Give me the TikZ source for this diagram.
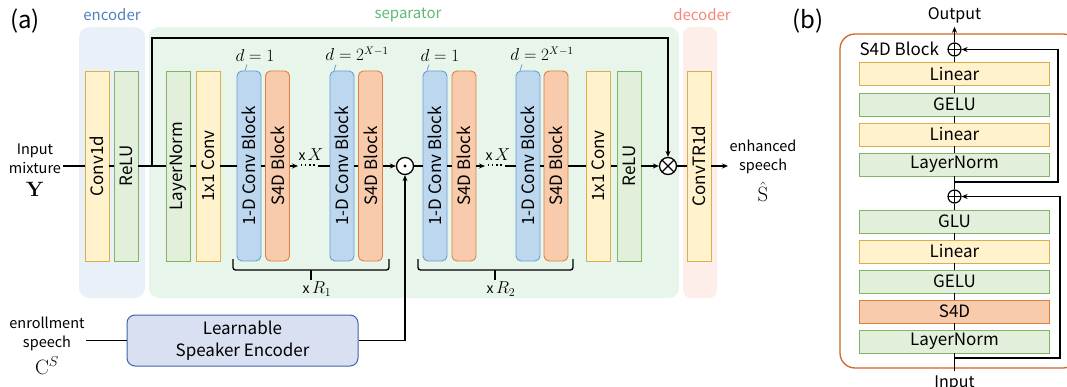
\documentclass[tikz,border=0pt]{standalone}
\usepackage[no-math]{fontspec}
\setmainfont{Noto Sans CJK JP}
\usetikzlibrary{arrows.meta,calc}
\definecolor{yF}{HTML}{FFF2CC}\definecolor{yD}{HTML}{D6B04C}
\definecolor{gF}{HTML}{E2EFDA}\definecolor{gD}{HTML}{82B366}
\definecolor{bF}{HTML}{BDD7EE}\definecolor{bD}{HTML}{6A9FD4}
\definecolor{oF}{HTML}{F8CBAD}\definecolor{oD}{HTML}{E08040}
\definecolor{encbg}{HTML}{E9F0F8}\definecolor{sepbg}{HTML}{E7F5EB}\definecolor{decbg}{HTML}{FDEEEA}
\definecolor{encT}{HTML}{4F81BD}\definecolor{sepT}{HTML}{5DBB72}\definecolor{decT}{HTML}{F4877A}
\definecolor{spkF}{HTML}{D9E0F2}\definecolor{spkD}{HTML}{3D64A8}
\definecolor{outerD}{HTML}{D0662A}
\newcommand{\mymathL}[1]{{\fontsize{20}{22}\selectfont$#1$}}
\newcommand{\mymathM}[1]{{\fontsize{17}{19}\selectfont$#1$}}
\begin{document}
\begin{tikzpicture}[x=1pt,y=-1pt,line width=1.3pt,
  >={Stealth[length=6pt,width=5pt]},
  tall/.style={rotate=90,draw,minimum width=190pt,minimum height=24pt,inner sep=0pt,line width=0.9pt,font=\fontsize{17}{20}\selectfont},
  yb/.style={tall,fill=yF,draw=yD},
  gb/.style={tall,fill=gF,draw=gD},
  cbk/.style={tall,fill=bF,draw=bD,rounded corners=5pt},
  sbk/.style={tall,fill=oF,draw=oD,rounded corners=5pt},
  bbox/.style={draw,minimum width=190pt,minimum height=23pt,inner sep=0pt,line width=0.9pt,font=\fontsize{17}{20}\selectfont},
  byb/.style={bbox,fill=yF,draw=yD},
  bgb/.style={bbox,fill=gF,draw=gD},
  bob/.style={bbox,fill=oF,draw=oD},
  opc/.style={circle,draw,fill=white,minimum size=17pt,inner sep=0pt,line width=1.3pt},
  plusc/.style={circle,draw,fill=white,minimum size=13pt,inner sep=0pt,line width=1.2pt,
    path picture={\draw[line width=1pt] (path picture bounding box.north) -- (path picture bounding box.south)
      (path picture bounding box.west) -- (path picture bounding box.east);}},
  grp/.style={font=\fontsize{15}{18}\selectfont},
  side/.style={align=center,font=\fontsize{14.5}{19}\selectfont,inner sep=1pt},
  dl/.style={font=\fontsize{16}{18}\selectfont},
  xl/.style={font=\fontsize{14}{16}\selectfont},
  tk/.style={draw=bD,line width=0.8pt},
  brc/.style={line width=1.3pt,rounded corners=2.5pt}
]
\useasboundingbox (0,0) rectangle (1067,387);
% backgrounds
\fill[encbg,rounded corners=10pt] (79,27) rectangle (145,298);
\fill[sepbg,rounded corners=10pt] (149,27) rectangle (679,298);
\fill[decbg,rounded corners=8pt] (683,27) rectangle (717,298);
\node[grp,text=encT] (encl) at (112,15) {encoder};
\node[grp,text=sepT] (sepl) at (408,15) {separator};
\node[grp,text=decT] (decl) at (702,15) {decoder};
\node[font=\fontsize{24}{26}\selectfont] (la) at (25,21) {(a)};
\node[font=\fontsize{24}{26}\selectfont] (lb) at (808,21) {(b)};

% panel (a) blocks
\node[yb] (conv1d) at (97,166) {Conv1d};
\node[gb] (relu1) at (126,166) {ReLU};
\node[gb] (ln) at (178,166) {LayerNorm};
\node[yb] (cva) at (208,166) {1x1 Conv};
\node[cbk] (cb1) at (249,166) {1-D Conv Block};
\node[sbk] (s1) at (277.5,166) {S4D Block};
\node[cbk] (cb2) at (342,166) {1-D Conv Block};
\node[sbk] (s2) at (370.5,166) {S4D Block};
\node[opc] (dot) at (405,166) {};
\fill (dot.center) circle (1.6pt);
\node[cbk] (cb3) at (435,166) {1-D Conv Block};
\node[sbk] (s3) at (464,166) {S4D Block};
\node[cbk] (cb4) at (528,166) {1-D Conv Block};
\node[sbk] (s4) at (556,166) {S4D Block};
\node[yb] (cvb) at (598.5,166) {1x1 Conv};
\node[gb] (relu2) at (629,166) {ReLU};
\node[opc,path picture={\draw[line width=1.2pt] (path picture bounding box.north west) -- (path picture bounding box.south east)
      (path picture bounding box.north east) -- (path picture bounding box.south west);}] (mul) at (668,166) {};
\node[yb] (ctr) at (699,166) {ConvTR1d};

\node[side] (inp) at (35,170) {Input\\mixture\\[4pt]\mymathL{\mathbf{Y}}};
\node[side,anchor=west] (outs) at (728,170.5) {enhanced\\speech\\[7pt]\mymathL{\hat{\mathrm{S}}}};

% d labels
\node[dl] (d1) at (255,56) {$d=1$};
\node[dl] (d2) at (357,54) {$d=2^{X-1}$};
\node[dl] (d3) at (440,56) {$d=1$};
\node[dl] (d4) at (542,54) {$d=2^{X-1}$};
\draw[tk] ($(cb1.east)+(-4,0)$) -- ++(2,-6);
\draw[tk] ($(cb2.east)+(-8,0)$) -- ++(2,-6);
\draw[tk] ($(cb3.east)+(-8,0)$) -- ++(2,-6);
\draw[tk] ($(cb4.east)+(-8,0)$) -- ++(2,-6);

% connectors
\draw (inp.east |- conv1d.center) -- (conv1d.north);
\draw (conv1d.south) -- (relu1.north);
\draw (relu1.south) -- (ln.north);
\coordinate (sk) at (152,166);
\draw[->] (sk) -- (152,38) -| (mul.north);
\draw (ln.south) -- (cva.north);
\draw (cva.south) -- (cb1.north);
\draw (cb1.south) -- (s1.north);
\coordinate (x1a) at (298,166);
\coordinate (x1b) at (318,166);
\draw[->] (s1.south) -- (x1a);
\draw[line width=1.3pt,dash pattern=on 1.3pt off 2.8pt] (301,165) -- (317,165);
\draw (x1b) -- (cb2.north);
\node[xl] (xX1) at (311,155) {x\,\mymathM{X}};
\draw (cb2.south) -- (s2.north);
\draw[->] (s2.south) -- (dot.west);
\draw (dot.east) -- (cb3.north);
\draw (cb3.south) -- (s3.north);
\coordinate (x2a) at (485,166);
\coordinate (x2b) at (505,166);
\draw[->] (s3.south) -- (x2a);
\draw[line width=1.3pt,dash pattern=on 1.3pt off 2.8pt] (488,165) -- (504,165);
\draw (x2b) -- (cb4.north);
\node[xl] (xX2) at (498,155) {x\,\mymathM{X}};
\draw (cb4.south) -- (s4.north);
\draw (s4.south) -- (cvb.north);
\draw (cvb.south) -- (relu2.north);
\draw[->] (relu2.south) -- (mul.west);
\draw (mul.east) -- (ctr.north);
\draw[->] (ctr.south) -- (outs.west |- ctr.center);

% braces
\draw[brc] (233,259) -- (233,270) -- (389,270) -- (389,259);
\draw[line width=1.3pt] (311,270) -- (311,280);
\node[xl] (r1) at (317,289) {x\,\mymathM{R_1}};
\draw[brc] (418,259) -- (418,270) -- (573,270) -- (573,259);
\draw[line width=1.3pt] (495,270) -- (495,280);
\node[xl] (r2) at (501,289) {x\,\mymathM{R_2}};

% speaker encoder
\node[draw=spkD,fill=spkF,rounded corners=8pt,minimum width=231pt,minimum height=51pt,line width=1pt,
  align=center,font=\fontsize{17}{22}\selectfont] (spk) at (242.5,340.5) {Learnable\\Speaker Encoder};
\node[side] (enr) at (47,345.5) {enrollment\\speech\\[5pt]\mymathL{\mathrm{C}^{S}}};
\draw (enr.east |- spk.center) -- (spk.west);
\draw[->] (spk.east) -| (dot.south);

% panel (b)
\draw[outerD,line width=1.3pt,rounded corners=15pt] (840,34) rectangle (1078,368);
\node[byb] (bl1) at (954.5,74) {Linear};
\node[bgb] (bg1) at (954.5,104.5) {GELU};
\node[byb] (bl2) at (954.5,134.5) {Linear};
\node[bgb] (bn1) at (954.5,164.5) {LayerNorm};
\node[bgb] (bglu) at (954.5,221.5) {GLU};
\node[byb] (bl3) at (954.5,251.5) {Linear};
\node[bgb] (bg2) at (954.5,281.5) {GELU};
\node[bob] (bs4) at (954.5,311.5) {S4D};
\node[bgb] (bn2) at (954.5,341.5) {LayerNorm};
\node[plusc] (p1) at (954.5,49.5) {};
\node[plusc] (p2) at (954.5,196.5) {};
\node[font=\fontsize{16}{18}\selectfont] (outp) at (954.5,15) {Output};
\node[font=\fontsize{16}{18}\selectfont] (inpb) at (954.5,383) {Input};
\node[font=\fontsize{17}{20}\selectfont,anchor=east] (s4dl) at (943,49) {S4D Block};
\draw[line width=1pt] (inpb.north) -- (bn2.south);
\draw[line width=1pt] (bn2.north) -- (bs4.south);
\draw[line width=1pt] (bs4.north) -- (bg2.south);
\draw[line width=1pt] (bg2.north) -- (bl3.south);
\draw[line width=1pt] (bl3.north) -- (bglu.south);
\draw[line width=1pt] (bglu.north) -- (p2.south);
\draw[line width=1pt] (p2.north) -- (bn1.south);
\draw[line width=1pt] (bn1.north) -- (bl2.south);
\draw[line width=1pt] (bl2.north) -- (bg1.south);
\draw[line width=1pt] (bg1.north) -- (bl1.south);
\draw[line width=1pt] (bl1.north) -- (p1.south);
\draw[line width=1pt,->] (p1.north) -- (outp.south);
\coordinate (j1) at (954.5,182);
\coordinate (j2) at (954.5,358);
\draw[line width=1.2pt,->] (j1) -- (1058,182) |- (p1.east);
\draw[line width=1.2pt,->] (j2) -- (1060,358) |- (p2.east);
\end{tikzpicture}
\end{document}
